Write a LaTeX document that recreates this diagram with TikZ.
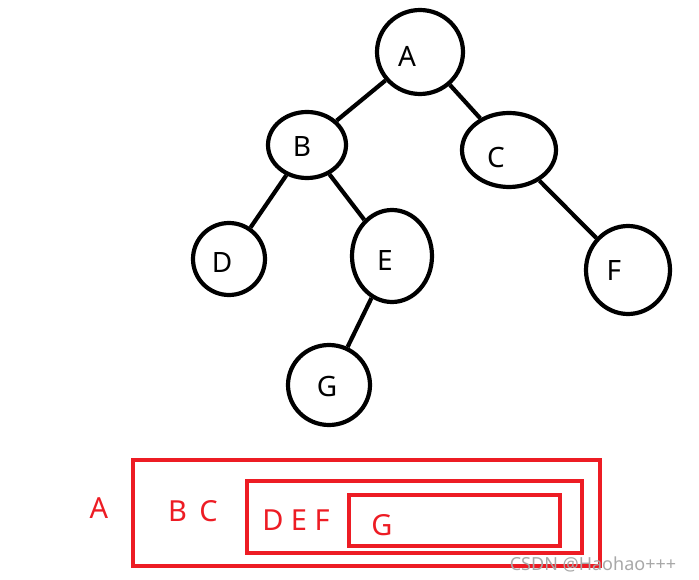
\documentclass[tikz,border=0pt]{standalone}
\usepackage{fontspec}
\setmainfont{Noto Sans}
\usetikzlibrary{shapes.geometric}
\definecolor{mRed}{HTML}{ED1C24}
\definecolor{mInk}{HTML}{000000}
\definecolor{mMark}{HTML}{A8A8A8}

\tikzset{
  tnode/.style={ellipse, draw=mInk, line width=4.2pt, inner sep=0pt},
  tlabel/.style={font=\fontsize{28}{30}\selectfont, text=mInk},
  tedge/.style={mInk, line width=4.2pt},
  lvbox/.style={mRed, line width=4.6pt},
  lvtext/.style={font=\fontsize{29}{31}\selectfont, text=mRed}
}

\begin{document}
\begin{tikzpicture}[x=1pt, y=-1pt]
  \useasboundingbox (0,0) rectangle (699,580);
  % the tree
  \node[tnode, minimum width=86, minimum height=84,
        label={[tlabel, xshift=-13, yshift=-4]center:A}] (A) at (420,52) {};
  \node[tnode, minimum width=78, minimum height=66,
        label={[tlabel, xshift=-5, yshift=-2]center:B}] (B) at (307,145) {};
  \node[tnode, minimum width=94, minimum height=74,
        label={[tlabel, xshift=-13, yshift=-8]center:C}] (C) at (509,150) {};
  \node[tnode, minimum width=72, minimum height=72,
        label={[tlabel, xshift=-7, yshift=-4]center:D}] (D) at (229,259) {};
  \node[tnode, minimum width=80, minimum height=92,
        label={[tlabel, xshift=-7, yshift=-5]center:E}] (E) at (392,256) {};
  \node[tnode, minimum width=84, minimum height=88,
        label={[tlabel, xshift=-14, yshift=-1]center:F}] (F) at (628,270) {};
  \node[tnode, minimum width=82, minimum height=80,
        label={[tlabel, xshift=-2, yshift=-2]center:G}] (G) at (329,385) {};
  \draw[tedge] (A) -- (B);
  \draw[tedge] (A) -- (C);
  \draw[tedge] (B) -- (D);
  \draw[tedge] (B) -- (E);
  \draw[tedge] (C) -- (F);
  \draw[tedge] (E) -- (G);
  % level order boxes
  \draw[lvbox] (133,460) rectangle (600,566);
  \draw[lvbox] (247,481) rectangle (582,553);
  \draw[lvbox] (349,495) rectangle (560,546);
  \node[lvtext] (lvA) at (99,508) {A};
  \node[lvtext] (lvB) at (193,511) {B\, C};
  \node[lvtext] (lvD) at (296,520) {D E F};
  \node[lvtext] (lvG) at (382,525) {G};
  % watermark
  \node[font=\fontsize{18}{20}\selectfont, text=mMark] (mark) at (593,564) {CSDN @Haohao+++};
\end{tikzpicture}
\end{document}
